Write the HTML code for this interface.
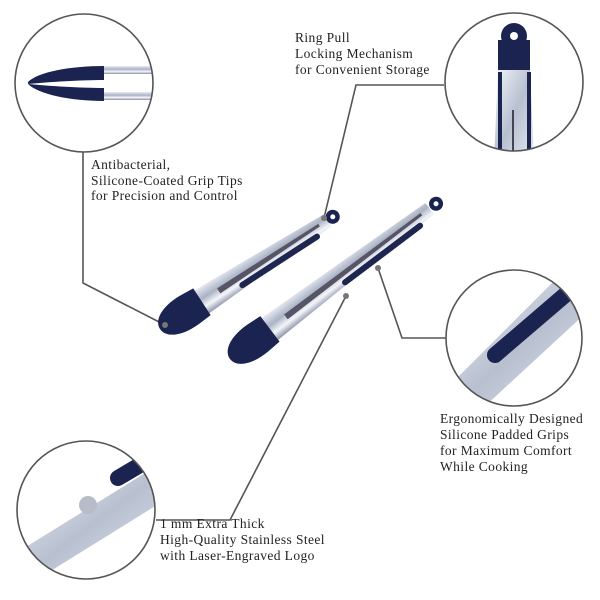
<!DOCTYPE html>
<html><head><style>
body{margin:0;background:#fff;width:600px;height:600px;overflow:hidden}
svg{display:block}
text{font-family:"Liberation Serif",serif;font-size:13.5px;fill:#222;letter-spacing:0.4px}
</style></head><body>
<svg width="600" height="600" viewBox="0 0 600 600">
<defs>
<linearGradient id="st" x1="0" y1="0" x2="0" y2="1">
<stop offset="0" stop-color="#e8ecf4"/><stop offset="0.4" stop-color="#aab2c4"/><stop offset="0.7" stop-color="#f4f6fa"/><stop offset="1" stop-color="#8890a4"/></linearGradient>
<linearGradient id="st2" x1="0" y1="0" x2="1" y2="1">
<stop offset="0" stop-color="#f2f4f8"/><stop offset="0.5" stop-color="#b8c0d0"/><stop offset="1" stop-color="#e4e8f0"/></linearGradient>
<clipPath id="c1"><circle cx="84" cy="83" r="69"/></clipPath>
<clipPath id="c2"><circle cx="514" cy="82" r="69"/></clipPath>
<clipPath id="c3"><circle cx="514" cy="338" r="68"/></clipPath>
<clipPath id="c4"><circle cx="86" cy="510" r="69"/></clipPath>
</defs>

<g stroke="#555" stroke-width="1.6" fill="none">
<polyline points="83,152 83,283 165,325"/>
<polyline points="444,85 356,85 324,218"/>
<polyline points="378,268 402,338 446,338"/>
<polyline points="346,296 230,520 156,520"/>
</g>

<!-- small tong -->
<g transform="translate(160,329) rotate(-33)">
<path d="M40,-14 L200,-7 L200,7 L40,14 Z" fill="url(#st)"/>
<path d="M70,-3 L190,-2 L190,1 L70,3Z" fill="#556"/>
<rect x="90" y="5" width="95" height="6" rx="3" fill="#1e2650"/>
<path d="M0,0 C0,-11 15,-18 35,-17 L50,-16 L50,16 L35,17 C15,18 0,11 0,0Z" fill="#1b2350"/>
<circle cx="206" cy="0" r="7" fill="#1b2350"/><circle cx="206" cy="0" r="2.5" fill="#fff"/>
</g>
<!-- large tong -->
<g transform="translate(230,359) rotate(-37)">
<path d="M40,-14 L250,-7 L250,7 L40,14 Z" fill="url(#st)"/>
<path d="M70,-3 L240,-2 L240,1 L70,3Z" fill="#556"/>
<rect x="135" y="5" width="100" height="6" rx="3" fill="#1e2650"/>
<path d="M0,0 C0,-11 15,-18 35,-17 L50,-16 L50,16 L35,17 C15,18 0,11 0,0Z" fill="#1b2350"/>
<circle cx="258" cy="0" r="7" fill="#1b2350"/><circle cx="258" cy="0" r="2.5" fill="#fff"/>
</g>
<g fill="#777"><circle cx="165" cy="325" r="3"/><circle cx="324" cy="218" r="3"/><circle cx="378" cy="268" r="3"/><circle cx="346" cy="296" r="3"/></g>

<g clip-path="url(#c1)">
<rect x="100" y="66" width="60" height="8" fill="url(#st)"/>
<rect x="100" y="92" width="60" height="8" fill="url(#st)"/>
<path d="M28,82 C38,72 70,66 104,66 L104,80 C80,80 50,82 28,84Z" fill="#1b2350"/>
<path d="M28,84 C50,86 80,88 104,88 L104,101 C70,101 38,94 28,84Z" fill="#1b2350"/>
</g>
<circle cx="84" cy="83" r="69" fill="none" stroke="#555" stroke-width="1.6"/>

<g clip-path="url(#c2)">
<path d="M498,70 L530,70 L534,160 L494,160Z" fill="url(#st2)"/>
<path d="M498,40 L530,40 L530,70 L498,70Z" fill="#1b2350"/>
<circle cx="514" cy="36" r="13" fill="#1b2350"/><circle cx="514" cy="36" r="4" fill="#fff"/>
<rect x="498" y="72" width="4" height="90" fill="#1b2350"/><rect x="527" y="72" width="4" height="90" fill="#1b2350"/>
<rect x="512" y="110" width="2" height="50" fill="#445"/>
</g>
<circle cx="514" cy="82" r="69" fill="none" stroke="#555" stroke-width="1.6"/>

<g clip-path="url(#c3)">
<path d="M560,275 L600,300 L470,420 L440,395Z" fill="url(#st2)"/>
<path d="M565,295 L495,355" stroke="#1b2350" stroke-width="16" stroke-linecap="round"/>
</g>
<circle cx="514" cy="338" r="68" fill="none" stroke="#555" stroke-width="1.6"/>

<g clip-path="url(#c4)">
<path d="M150,470 L165,500 L20,590 L5,560Z" fill="url(#st2)"/>
<path d="M140,465 L118,478" stroke="#1b2350" stroke-width="16" stroke-linecap="round"/>
<circle cx="88" cy="505" r="9" fill="#b8bcc8"/>
</g>
<circle cx="86" cy="510" r="69" fill="none" stroke="#555" stroke-width="1.6"/>

<text x="91" y="169">Antibacterial,</text>
<text x="91" y="185">Silicone-Coated Grip Tips</text>
<text x="91" y="200">for Precision and Control</text>
<text x="295" y="42">Ring Pull</text>
<text x="295" y="58">Locking Mechanism</text>
<text x="295" y="74">for Convenient Storage</text>
<text x="440" y="423">Ergonomically Designed</text>
<text x="440" y="439">Silicone Padded Grips</text>
<text x="440" y="455">for Maximum Comfort</text>
<text x="440" y="471">While Cooking</text>
<text x="160" y="528">1 mm Extra Thick</text>
<text x="160" y="544">High-Quality Stainless Steel</text>
<text x="160" y="560">with Laser-Engraved Logo</text>
</svg>
</body></html>
